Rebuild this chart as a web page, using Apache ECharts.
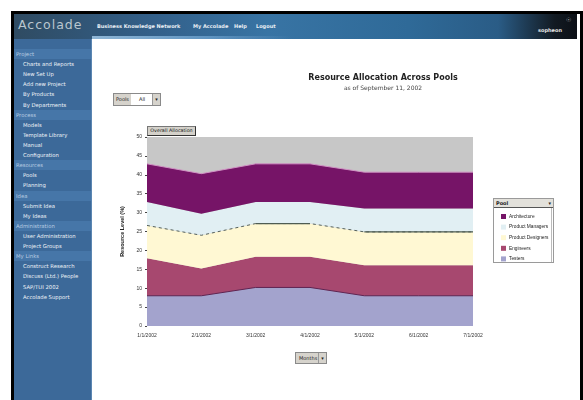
<!DOCTYPE html>
<html>
<head>
<meta charset="UTF-8">
<title>Accolade - Resource Allocation</title>
<script src="https://cdn.jsdelivr.net/npm/echarts@6/dist/echarts.min.js"></script>
<style>
	* { margin: 0; padding: 0; }
	body { width: 583px; height: 400px; background: #fff; overflow: hidden; position: relative;
		font-family: "DejaVu Sans", Arial, sans-serif; }
	#frame { position: absolute; left: 11px; top: 11px; width: 566px; height: 389px;
		border-left: 3px solid #000; border-top: 3px solid #000; border-right: 3px solid #000; }
	#header { position: absolute; left: 14px; top: 14px; width: 563px; height: 25px;
		background: linear-gradient(90deg, #2f4b62 0%, #33608a 25%, #3874a4 45%, #2f6a98 70%, #2a5c86 86%, #121a22 96%, #0c1016 100%); }
	#swoosh { position: absolute; left: 92px; top: 36px; width: 200px; height: 3px;
		background: linear-gradient(90deg, #8fb6d6, #5e93c0 60%, rgba(60,110,160,0)); }
	#logo { position: absolute; left: 18px; top: 17px; font-size: 12.5px; letter-spacing: 1px; color: #b9c6cf; }
	.nav { position: absolute; top: 23px; font-size: 5px; font-weight: bold; color: #e8eef4; white-space: nowrap; }
	#brand { position: absolute; left: 538px; top: 27px; font-size: 5px; font-weight: bold; color: #e6e6e6; }
	#brandmark { position: absolute; left: 566px; top: 16px; font-size: 6px; color: #cfcfcf; }
	#side { position: absolute; left: 14px; top: 39px; width: 77px; height: 361px; background: #3c6999;
		border-right: 1px solid #5b86b2; padding-top: 10px; }
	.row { height: 10.12px; line-height: 10.12px; font-size: 5.3px; color: #eef3f8; padding-left: 9px; white-space: nowrap; }
	.row.h { background: #4676a8; color: #b9cde2; padding-left: 2px; }
	.sel { position: absolute; border: 1px solid #8a8a8a; background: #fff; font-size: 5px; color: #222; }
	.sel .lab { position: absolute; left: 0; top: 0; bottom: 0; background: #d6d3cc; padding: 0 2px; line-height: 10px; }
	.sel .arr { position: absolute; right: 0; top: 0; bottom: 0; width: 7px; background: #d6d3cc; border-left: 1px solid #999;
		font-size: 5px; line-height: 10px; text-align: center; }
	#tab { position: absolute; left: 147px; top: 126px; width: 47px; height: 8px; background: #d4d1ca;
		border: 1px solid #777; border-right-color: #333; border-bottom-color: #333; font-size: 4.8px; line-height: 8px; text-align: center; color: #111; }
	#legbox { position: absolute; left: 493px; top: 198px; width: 59px; height: 63px; border: 1px solid #9a9a9a; background: #fff; }
	#leghead { position: absolute; left: 0; top: 0; right: 0; height: 8px; background: #e3e1db; border-bottom: 1px solid #555;
		font-size: 5px; line-height: 8px; padding-left: 2px; font-weight: bold; color: #222; }
	#legscroll { position: absolute; right: 1px; top: 9px; bottom: 0; width: 1px; background: #bbb; }
	#chart { position: absolute; left: 0; top: 0; width: 583px; height: 400px; }
</style>
</head>
<body>
	<div id="frame"></div>
	<div id="header"></div>
	<div id="swoosh"></div>
	<div id="logo">Accolade</div>
	<div class="nav" style="left:97px">Business Knowledge Network</div>
	<div class="nav" style="left:193px">My Accolade</div>
	<div class="nav" style="left:234px">Help</div>
	<div class="nav" style="left:256px">Logout</div>
	<div id="brandmark">&#9737;</div>
	<div id="brand">sopheon</div>

	<div id="side">
		<div class="row h">Project</div>
		<div class="row">Charts and Reports</div>
		<div class="row">New Set Up</div>
		<div class="row">Add new Project</div>
		<div class="row">By Products</div>
		<div class="row">By Departments</div>
		<div class="row h">Process</div>
		<div class="row">Models</div>
		<div class="row">Template Library</div>
		<div class="row">Manual</div>
		<div class="row">Configuration</div>
		<div class="row h">Resources</div>
		<div class="row">Pools</div>
		<div class="row">Planning</div>
		<div class="row h">Idea</div>
		<div class="row">Submit Idea</div>
		<div class="row">My Ideas</div>
		<div class="row h">Administration</div>
		<div class="row">User Administration</div>
		<div class="row">Project Groups</div>
		<div class="row h">My Links</div>
		<div class="row">Construct Research</div>
		<div class="row">Discuss (Ltd.) People</div>
		<div class="row">SAP/TUI 2002</div>
		<div class="row">Accolade Support</div>
	</div>

	<div class="sel" style="left:113px;top:93px;width:46px;height:11px;">
		<span class="lab">Pools</span><span style="position:absolute;left:25px;line-height:10px;">All</span><span class="arr">&#9662;</span>
	</div>
	<div id="tab">Overall Allocation</div>
	<div class="sel" style="left:295px;top:352px;width:30px;height:10px;background:#d6d3cc;">
		<span style="position:absolute;left:3px;line-height:10px;">Months</span><span class="arr">&#9662;</span>
	</div>
	<div id="legbox"><div id="leghead">Pool<span style="position:absolute;right:2px;">&#9662;</span></div><div id="legscroll"></div></div>

	<div id="chart"></div>

	<script>
		// x axis dates
		var dates = ['1/1/2002', '2/1/2002', '3/1/2002', '4/1/2002', '5/1/2002', '6/1/2002', '7/1/2002'];
		var yTicks = [0, 50, 5]; // min, max, step

		// allocation per pool (bottom to top of the stack)
		var testers = [8.0, 8.0, 10.2, 10.2, 8.0, 8.0, 8.0];
		var engineers = [9.9, 7.2, 8.1, 8.1, 8.1, 8.1, 8.1];
		var designers = [8.7, 8.8, 8.8, 8.8, 8.8, 8.8, 8.8];
		var managers = [6.2, 5.7, 5.7, 5.7, 6.2, 6.2, 6.2];
		var architecture = [10.1, 10.6, 10.1, 10.1, 9.6, 9.6, 9.6];

		// the designers' top edge is solid on these stretches, dashed elsewhere
		var solidRuns = [[2, 3], [4, 6]];

		var topOfDesigners = [];
		for (var i = 0; i < dates.length; i++) {
			topOfDesigners.push(+(testers[i] + engineers[i] + designers[i]).toFixed(2));
		}

		function layer(name, data, color, line) {
			return {
				name: name,
				type: 'line',
				stack: 'pools',
				data: data,
				symbol: 'none',
				color: color,
				lineStyle: line,
				areaStyle: { color: color, opacity: 1 },
				emphasis: { disabled: true }
			};
		}

		var series = [
			layer('Testers', testers, '#a3a3cd', { color: '#5e2452', width: 1 }),
			layer('Engineers', engineers, '#a7486f', { width: 0 }),
			layer('Product Designers', designers, '#fff8d3', { color: '#55605a', width: 1, type: [3, 3] }),
			layer('Product Managers', managers, '#e1eff3', { width: 0 }),
			layer('Architecture', architecture, '#761467', { color: '#d093c4', width: 1 })
		];

		solidRuns.forEach(function (run) {
			var d = [];
			for (var i = 0; i < dates.length; i++) {
				d.push(i >= run[0] && i <= run[1] ? topOfDesigners[i] : '-');
			}
			series.push({
				type: 'line', data: d, symbol: 'none', silent: true,
				lineStyle: { color: '#4e5c52', width: 1.2 },
				z: 3
			});
		});

		var myChart = echarts.init(document.getElementById('chart'));
		myChart.setOption({
			backgroundColor: 'transparent',
			animation: false,
			title: {
				text: 'Resource Allocation Across Pools',
				subtext: 'as of September 11, 2002',
				left: 378,
				top: 69,
				textAlign: 'center',
				itemGap: 3,
				textStyle: { fontSize: 8, fontWeight: 'bold', color: '#222', fontFamily: 'DejaVu Sans' },
				subtextStyle: { fontSize: 6, color: '#444', fontFamily: 'DejaVu Sans' }
			},
			legend: {
				data: ['Architecture', 'Product Managers', 'Product Designers', 'Engineers', 'Testers'],
				orient: 'vertical',
				left: 496,
				top: 209,
				icon: 'rect',
				itemWidth: 5,
				itemHeight: 5,
				itemGap: 5.6,
				textStyle: { fontSize: 4.8, color: '#222', padding: [0, 0, 0, -2] },
				selectedMode: false
			},
			grid: {
				left: 147, right: 110, top: 137, bottom: 74,
				show: true, backgroundColor: '#c7c7c7', borderWidth: 0
			},
			xAxis: {
				type: 'category',
				data: dates,
				boundaryGap: false,
				axisLine: { show: false },
				axisTick: { show: false },
				axisLabel: { fontSize: 5, color: '#333', margin: 7 }
			},
			yAxis: {
				type: 'value',
				min: yTicks[0],
				max: yTicks[1],
				interval: yTicks[2],
				name: 'Resource Level (%)',
				nameLocation: 'middle',
				nameGap: 20,
				nameTextStyle: { fontSize: 5.5, fontWeight: 'bold', color: '#222' },
				axisLine: { show: false },
				axisTick: { show: true, length: 2, lineStyle: { color: '#444' } },
				splitLine: { show: false },
				axisLabel: { fontSize: 5, color: '#333', margin: 5 }
			},
			series: series
		});
	</script>
</body>
</html>
